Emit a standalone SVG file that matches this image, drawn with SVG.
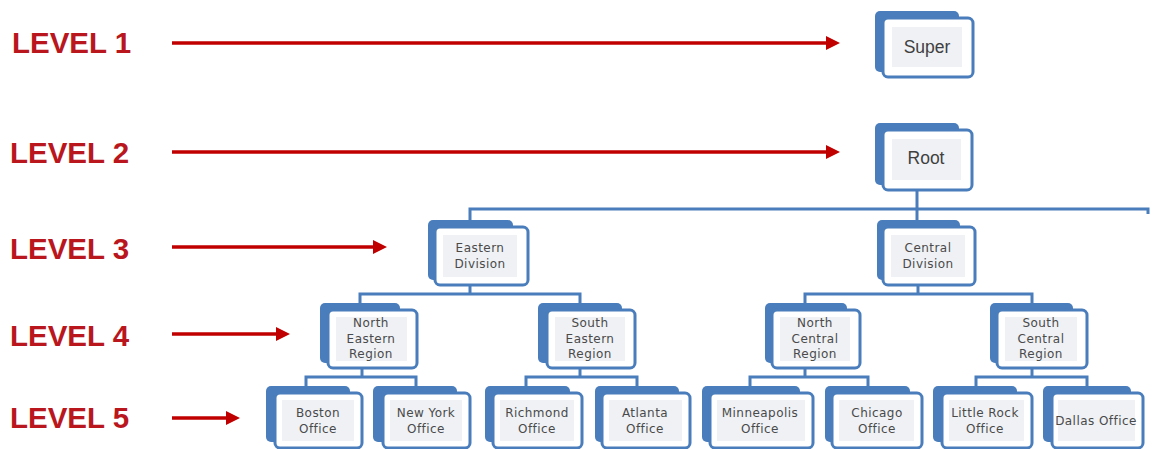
<svg xmlns="http://www.w3.org/2000/svg" width="1152" height="449" viewBox="0 0 1152 449">
  <style>
    .lvl { font-family: "Liberation Sans", Arial, sans-serif; font-weight: bold; font-size: 29.5px; fill: #ba161d; }
    .arr { stroke: #c00000; stroke-width: 3.5; fill: none; marker-end: url(#head); }
    .back { fill: #4a7dbb; }
    .front { fill: #ffffff; stroke: #4a7dbb; stroke-width: 3; }
    .inner { fill: #eff1f5; }
    .big { font-family: "Liberation Sans", Arial, sans-serif; font-size: 17.5px; fill: #404040; text-anchor: middle; }
    .sm { font-family: "DejaVu Sans", sans-serif; font-size: 12px; letter-spacing: 0.45px; fill: #4a4a4a; text-anchor: middle; }
    .conn path { stroke: #4a7dbb; stroke-width: 3; fill: none; }
  </style>
  <defs>
    <marker id="head" markerUnits="userSpaceOnUse" markerWidth="15" markerHeight="15" refX="3" refY="7" orient="auto">
      <path d="M0,0 L14,7 L0,14 z" fill="#c00000"/>
    </marker>
  </defs>

  <rect width="1152" height="449" fill="#ffffff"/>

  <!-- level labels and pointers -->
  <g id="levels">
    <text class="lvl" x="12" y="53">LEVEL 1</text>
    <text class="lvl" x="10" y="163">LEVEL 2</text>
    <text class="lvl" x="10" y="259">LEVEL 3</text>
    <text class="lvl" x="10" y="346">LEVEL 4</text>
    <text class="lvl" x="10" y="428">LEVEL 5</text>
    <path class="arr" d="M172,43 H829"/>
    <path class="arr" d="M172,152 H829"/>
    <path class="arr" d="M172,247 H376"/>
    <path class="arr" d="M172,334 H279"/>
    <path class="arr" d="M172,418 H229"/>
  </g>

  <!-- tree connectors -->
  <g id="connectors" class="conn">
    <path d="M917,190 V209"/>
    <path d="M470,222 V209 H1148 V214"/>
    <path d="M917,209 V222"/>
    <path d="M470,285 V294"/>
    <path d="M360,303 V294 H580 V303"/>
    <path d="M918,285 V294"/>
    <path d="M805,303 V294 H1032 V303"/>
    <path d="M362,368 V377"/>
    <path d="M306,387 V377 H416 V387"/>
    <path d="M580,368 V377"/>
    <path d="M526,387 V377 H637 V387"/>
    <path d="M805,368 V377"/>
    <path d="M750,387 V377 H868 V387"/>
    <path d="M1032,368 V377"/>
    <path d="M976,387 V377 H1087 V387"/>
  </g>

  <g id="super">
    <rect class="back" x="875" y="11" width="84" height="61" rx="5"/>
    <rect class="front" x="883" y="18" width="90" height="59" rx="5"/>
    <rect class="inner" x="892" y="27" width="70" height="40"/>
    <text class="big" x="927" y="53">Super</text>
  </g>

  <g id="root">
    <rect class="back" x="875" y="123" width="84" height="62" rx="5"/>
    <rect class="front" x="883" y="130" width="89" height="60" rx="5"/>
    <rect class="inner" x="892" y="139" width="69" height="41"/>
    <text class="big" x="926" y="164">Root</text>
  </g>

  <g id="eastern-division">
    <rect class="back" x="428" y="220" width="85" height="60" rx="5"/>
    <rect class="front" x="435" y="227" width="93" height="58" rx="5"/>
    <rect class="inner" x="443" y="235" width="74" height="42"/>
    <text class="sm" x="480" y="252">Eastern</text>
    <text class="sm" x="480" y="268">Division</text>
  </g>

  <g id="central-division">
    <rect class="back" x="877" y="220" width="83" height="60" rx="5"/>
    <rect class="front" x="883" y="227" width="92" height="58" rx="5"/>
    <rect class="inner" x="891" y="235" width="74" height="42"/>
    <text class="sm" x="928" y="252">Central</text>
    <text class="sm" x="928" y="268">Division</text>
  </g>

  <g id="north-eastern-region">
    <rect class="back" x="320" y="303" width="80" height="60" rx="5"/>
    <rect class="front" x="328" y="310" width="89" height="58" rx="5"/>
    <rect class="inner" x="336" y="317" width="71" height="44"/>
    <text class="sm" x="371" y="327">North</text>
    <text class="sm" x="371" y="343">Eastern</text>
    <text class="sm" x="371" y="358">Region</text>
  </g>

  <g id="south-eastern-region">
    <rect class="back" x="538" y="303" width="84" height="60" rx="5"/>
    <rect class="front" x="547" y="310" width="88" height="58" rx="5"/>
    <rect class="inner" x="555" y="317" width="70" height="44"/>
    <text class="sm" x="590" y="327">South</text>
    <text class="sm" x="590" y="343">Eastern</text>
    <text class="sm" x="590" y="358">Region</text>
  </g>

  <g id="north-central-region">
    <rect class="back" x="765" y="303" width="82" height="60" rx="5"/>
    <rect class="front" x="772" y="310" width="88" height="58" rx="5"/>
    <rect class="inner" x="780" y="317" width="70" height="44"/>
    <text class="sm" x="815" y="327">North</text>
    <text class="sm" x="815" y="343">Central</text>
    <text class="sm" x="815" y="358">Region</text>
  </g>

  <g id="south-central-region">
    <rect class="back" x="990" y="303" width="83" height="60" rx="5"/>
    <rect class="front" x="997" y="310" width="90" height="58" rx="5"/>
    <rect class="inner" x="1005" y="317" width="72" height="44"/>
    <text class="sm" x="1041" y="327">South</text>
    <text class="sm" x="1041" y="343">Central</text>
    <text class="sm" x="1041" y="358">Region</text>
  </g>

  <g id="boston-office">
    <rect class="back" x="266" y="386" width="84" height="56" rx="5"/>
    <rect class="front" x="275" y="393" width="87" height="55" rx="5"/>
    <rect class="inner" x="282" y="400" width="72" height="41"/>
    <text class="sm" x="318" y="417">Boston</text>
    <text class="sm" x="318" y="433">Office</text>
  </g>

  <g id="new-york-office">
    <rect class="back" x="373" y="386" width="84" height="56" rx="5"/>
    <rect class="front" x="383" y="393" width="87" height="55" rx="5"/>
    <rect class="inner" x="390" y="400" width="72" height="41"/>
    <text class="sm" x="426" y="417">New York</text>
    <text class="sm" x="426" y="433">Office</text>
  </g>

  <g id="richmond-office">
    <rect class="back" x="485" y="386" width="85" height="56" rx="5"/>
    <rect class="front" x="493" y="393" width="89" height="55" rx="5"/>
    <rect class="inner" x="500" y="400" width="74" height="41"/>
    <text class="sm" x="537" y="417">Richmond</text>
    <text class="sm" x="537" y="433">Office</text>
  </g>

  <g id="atlanta-office">
    <rect class="back" x="595" y="386" width="84" height="56" rx="5"/>
    <rect class="front" x="602" y="393" width="88" height="55" rx="5"/>
    <rect class="inner" x="609" y="400" width="73" height="41"/>
    <text class="sm" x="645" y="417">Atlanta</text>
    <text class="sm" x="645" y="433">Office</text>
  </g>

  <g id="minneapolis-office">
    <rect class="back" x="702" y="386" width="98" height="56" rx="5"/>
    <rect class="front" x="710" y="393" width="103" height="55" rx="5"/>
    <rect class="inner" x="717" y="400" width="88" height="41"/>
    <text class="sm" x="760" y="417">Minneapolis</text>
    <text class="sm" x="760" y="433">Office</text>
  </g>

  <g id="chicago-office">
    <rect class="back" x="825" y="386" width="85" height="56" rx="5"/>
    <rect class="front" x="832" y="393" width="90" height="55" rx="5"/>
    <rect class="inner" x="839" y="400" width="75" height="41"/>
    <text class="sm" x="877" y="417">Chicago</text>
    <text class="sm" x="877" y="433">Office</text>
  </g>

  <g id="little-rock-office">
    <rect class="back" x="933" y="386" width="84" height="56" rx="5"/>
    <rect class="front" x="942" y="393" width="90" height="55" rx="5"/>
    <rect class="inner" x="949" y="400" width="75" height="41"/>
    <text class="sm" x="985" y="417">Little Rock</text>
    <text class="sm" x="985" y="433">Office</text>
  </g>

  <g id="dallas-office">
    <rect class="back" x="1043" y="386" width="88" height="56" rx="5"/>
    <rect class="front" x="1052" y="393" width="91" height="55" rx="5"/>
    <rect class="inner" x="1058" y="400" width="77" height="41"/>
    <text class="sm" x="1096" y="425" letter-spacing="0">Dallas Office</text>
  </g>
</svg>
